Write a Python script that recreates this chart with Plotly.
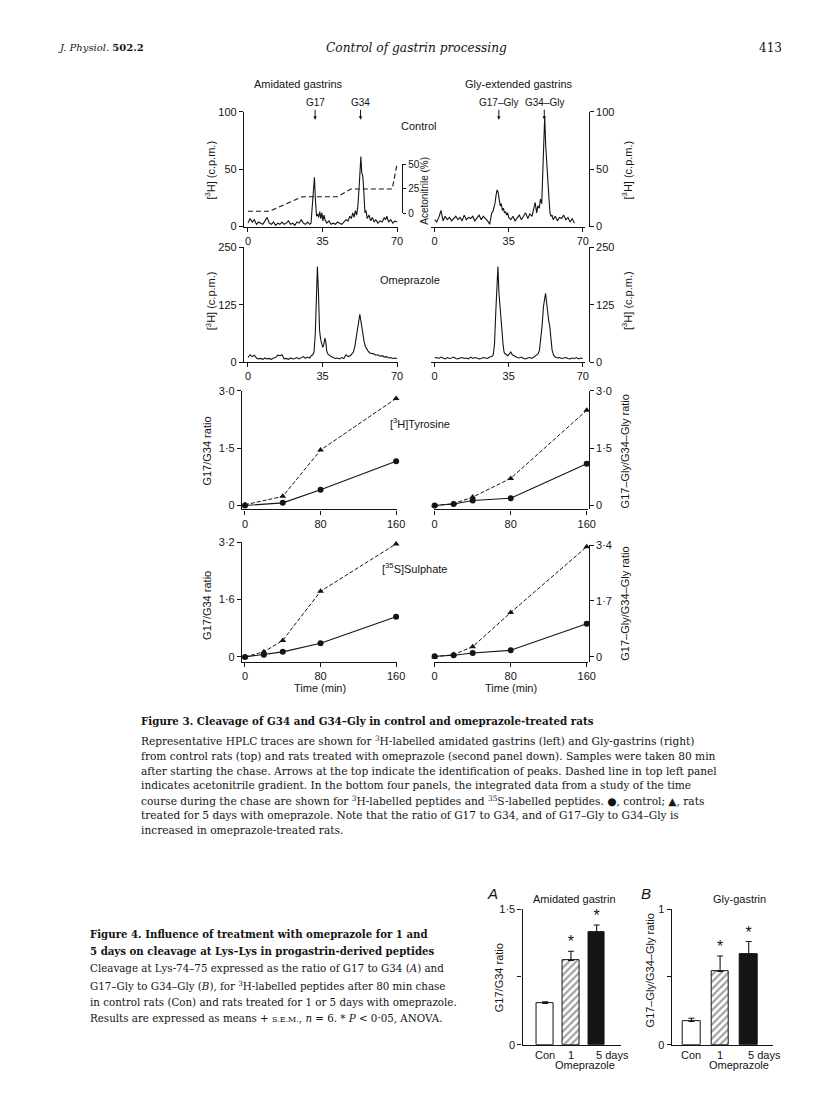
import plotly.graph_objects as go

W, H = 816, 1110
INK = '#141414'
SANS = 'Liberation Sans, Arial, Helvetica, sans-serif'
SERIF = 'DejaVu Serif, serif'

# ---------------- data ----------------
# HPLC, control, amidated gastrins (min, c.p.m.)
t_ca = [0, 1, 2, 3, 4, 5, 6, 7, 8, 9, 10, 11, 12, 13, 14, 15, 16, 17, 18, 19, 20, 21, 22, 23, 24, 25, 26, 27, 28, 29,
        29.6, 30.2, 30.7, 31.2, 31.7, 32.2, 32.7, 33.2, 33.7, 34.2, 34.7, 35.2, 35.7, 36.2,
        37, 38, 39, 40, 41, 42, 43, 44, 45, 46, 47,
        47.8, 48.5, 49.2, 49.8, 50.4, 51, 51.6, 52.2, 52.6, 53, 53.4, 53.9, 54.4, 54.9, 55.4, 56, 56.8, 57.6, 58.4, 59.2, 60,
        61, 62, 63, 64, 64.6, 65.2, 66, 67, 68, 69, 70]
c_ca = [3, 7, 4, 6, 2, 4, 3, 2, 5, 8, 3, 2, 4, 1, 3, 2, 4, 2, 3, 5, 2, 3, 1, 4, 3, 6, 3, 2, 4, 2,
        3, 18, 33, 43, 22, 9, 11, 8, 13, 7, 12, 5, 10, 6,
        3, 5, 2, 3, 2, 4, 3, 2, 4, 6, 5,
        9, 7, 12, 8, 14, 10, 18, 35, 52, 61, 47, 44, 30, 12, 14, 7, 10, 5, 8, 4, 6,
        3, 5, 4, 8, 6, 9, 4, 6, 3, 5, 4]

# HPLC, control, Gly-extended gastrins
t_cg = [0, 1, 2, 3, 4, 5, 6, 7, 8, 9, 10, 11, 12, 13, 14, 15, 16, 17, 18, 19, 20, 21, 22, 23, 24, 25, 26,
        27, 27.5, 28, 28.5, 29, 29.5, 30, 30.5, 31, 31.5, 32, 32.5, 33, 33.5, 34, 34.5, 35,
        36, 37, 38, 39, 40, 41, 42, 43, 44, 45, 46,
        46.8, 47.5, 48.2, 48.8, 49.4, 50, 50.6, 51.1, 51.6, 52.0, 52.5, 53, 53.5, 54, 54.5, 55, 55.5,
        56, 57, 58, 59, 60, 61, 62, 63, 64, 65, 66]
c_cg = [6, 4, 8, 14, 5, 9, 6, 8, 5, 7, 9, 6, 8, 5, 10, 6, 8, 7, 9, 5, 8, 10, 6, 9, 7, 5, 2,
        12, 13, 16, 20, 27, 32, 30, 24, 18, 20, 14, 16, 12, 13, 10, 12, 8,
        6, 9, 5, 8, 10, 6, 9, 12, 7, 11, 9,
        15, 21, 12, 18, 16, 24, 20, 45, 80, 96, 70, 52, 42, 25, 12, 9, 10,
        6, 9, 5, 8, 7, 10, 6, 8, 4, 7, 3]

# HPLC, omeprazole, amidated gastrins
t_oa = [0, 1, 2, 3, 4, 5, 6, 7, 8, 9, 10, 11, 12, 13, 14, 15, 16, 17, 18, 19, 20, 21, 22, 23, 24, 25, 26, 27, 28,
        29, 29.7, 30.4, 31, 31.6, 32.1, 32.6, 33.1, 33.6, 34.1, 34.6, 35.1, 35.6, 36.1, 36.5, 37, 37.5, 38.2, 39,
        40, 41, 42, 43, 44, 45, 46, 47, 48,
        48.8, 49.5, 50.2, 50.8, 51.4, 52, 52.5, 53, 53.5, 54, 54.5, 55.1, 55.7, 56.4, 57.2, 58,
        59, 60, 61, 62, 63, 64, 65, 66, 67, 68, 69, 70]
c_oa = [10, 16, 12, 15, 9, 7, 8, 6, 9, 7, 8, 6, 9, 10, 15, 14, 16, 7, 8, 6, 9, 7, 8, 10, 7, 9, 12, 8, 11,
        9, 14, 16, 22, 60, 140, 208, 150, 70, 50, 42, 32, 38, 52, 45, 24, 18, 14, 12,
        10, 8, 9, 7, 10, 8, 16, 12, 14,
        18, 22, 35, 55, 75, 95, 104, 90, 72, 65, 45, 34, 28, 24, 20, 19,
        18, 15, 16, 13, 14, 11, 12, 9, 10, 8, 9, 8]

# HPLC, omeprazole, Gly-extended gastrins
t_og = [0, 1, 2, 3, 4, 5, 6, 7, 8, 9, 10, 11, 12, 13, 14, 15, 16, 17, 18, 19, 20, 21, 22, 23, 24, 25, 26, 27,
        27.7, 28.3, 28.9, 29.4, 29.9, 30.4, 30.9, 31.3, 31.8, 32.3, 32.8, 33.3, 34, 34.6, 35.3, 36, 36.7,
        38, 39, 40, 41, 42, 43, 44, 45, 46, 47, 48,
        48.8, 49.5, 50.2, 50.8, 51.4, 52, 52.4, 52.9, 53.4, 53.9, 54.4, 54.9, 55.5, 56.2, 57,
        58, 59, 60, 61, 62, 63, 64, 65, 66, 67, 68, 69, 70]
c_og = [9, 10, 8, 11, 9, 7, 10, 8, 9, 11, 8, 7, 9, 10, 8, 9, 7, 11, 8, 10, 9, 7, 8, 10, 9, 8, 11, 12,
        16, 40, 110, 180, 208, 150, 115, 110, 70, 40, 22, 18, 16, 14, 18, 22, 16,
        12, 10, 9, 11, 8, 7, 9, 10, 8, 12, 14,
        18, 25, 50, 80, 120, 145, 150, 130, 105, 90, 78, 50, 26, 15, 11,
        9, 10, 8, 9, 10, 8, 7, 9, 8, 10, 7, 9, 8]

# acetonitrile gradient (%)
t_acn = [0, 10, 25.5, 42, 48.4, 67.7, 70]
acn = [2, 2, 17, 17, 25, 25, 51]

# time course of G17/G34 and G17-Gly/G34-Gly ratios
t_tyr_a = [0, 40, 80, 160]
tyr_a_con = [0, 0.07, 0.41, 1.16]
tyr_a_ome = [0.02, 0.24, 1.45, 2.80]
t_tyr_g = [0, 20, 40, 80, 160]
tyr_g_con = [0, 0.04, 0.13, 0.19, 1.09]
tyr_g_ome = [0, 0.05, 0.22, 0.71, 2.49]
t_sul = [0, 20, 40, 80, 160]
sul_a_con = [0, 0.06, 0.14, 0.38, 1.12]
sul_a_ome = [0, 0.14, 0.46, 1.83, 3.15]
sul_g_con = [0.02, 0.05, 0.12, 0.20, 1.01]
sul_g_ome = [0, 0.07, 0.31, 1.35, 3.35]

# Figure 4 bars
bar_cats = ['Con', '1', '5 days']
barA_mean = [0.457, 0.933, 1.244]
barA_sem = [0.018, 0.10, 0.08]
barB_mean = [0.171, 0.541, 0.671]
barB_sem = [0.024, 0.113, 0.09]

# tick labels
hplc_x_ticks = [0, 35, 70]
ratio_x_ticks = [0, 80, 160]

# ---------------- helpers ----------------
def fx(p):
    return p / W

def fy(p):
    return 1 - p / H

def span(d0, d1, p0, v0, p1, v1):
    s = (v1 - v0) / (p1 - p0)
    return [v0 + (d0 - p0) * s, v0 + (d1 - p0) * s]

base = dict(showline=True, linecolor=INK, linewidth=1.2, ticks='outside', ticklen=4,
            tickwidth=1.1, tickcolor=INK, showgrid=False, zeroline=False,
            tickfont=dict(family=SANS, size=11, color=INK), layer='above traces', fixedrange=True)

layout = {}

def key(kind, i):
    return kind if i == 1 else f'{kind}{i}'

def add_x(i, d0, d1, rng, anchor, vals=None, **kw):
    d = dict(base)
    d.update(domain=[fx(d0), fx(d1)], range=rng, anchor=anchor)
    if vals is not None:
        d.update(tickvals=vals, ticktext=[str(v) for v in vals])
    d.update(kw)
    layout[key('xaxis', i)] = d

def add_y(i, top, bottom, rng, vals, text, anchor=None, pos=None, side='left', **kw):
    d = dict(base)
    d.update(domain=[fy(bottom), fy(top)], range=rng, tickvals=vals, ticktext=text, side=side)
    if pos is not None:
        d.update(anchor='free', position=fx(pos))
    else:
        d.update(anchor=anchor)
    d.update(kw)
    layout[key('yaxis', i)] = d

# HPLC control
add_x(1, 245, 401, span(245, 401, 249, 0, 400, 70), 'y', hplc_x_ticks)
add_y(1, 107, 223, [0, 100], [0, 50, 100], ['0', '50', '100'], anchor='x')
add_x(2, 434, 590, span(434, 590, 438, 0, 588, 70), 'y2', hplc_x_ticks)
add_y(2, 107, 223, [0, 100], [0, 50, 100], ['0', '50', '100'], pos=594, side='right')
# acetonitrile bracket axis
add_y(3, 159.5, 209.5, span(209.5, 159.5, 209.5, 0, 160.5, 50), [0, 25, 50], ['0', '25', '50'],
      pos=405, side='right', tickfont=dict(family=SANS, size=10, color=INK), ticklen=3)
# HPLC omeprazole
add_x(4, 245, 401, span(245, 401, 249, 0, 400, 70), 'y4', hplc_x_ticks)
add_y(4, 244, 360, [0, 250], [0, 125, 250], ['0', '125', '250'], anchor='x4')
add_x(5, 434, 590, span(434, 590, 438, 0, 588, 70), 'y5', hplc_x_ticks)
add_y(5, 244, 360, [0, 250], [0, 125, 250], ['0', '125', '250'], pos=594, side='right')
# ratio, tyrosine
add_x(6, 243, 400, span(243, 400, 246, 0, 399, 160), 'y6', ratio_x_ticks)
add_y(6, 389, 509, span(509, 389, 505, 0, 389, 3.0), [0, 1.5, 3.0], ['0', '1·5', '3·0'], anchor='x6')
add_x(7, 437, 593, span(437, 593, 438, 0, 592, 160), 'y7', ratio_x_ticks)
add_y(7, 389, 509, span(509, 389, 505, 0, 389, 3.0), [0, 1.5, 3.0], ['0', '1·5', '3·0'], pos=594, side='right')
# ratio, sulphate
add_x(8, 243, 400, span(243, 400, 246, 0, 399, 160), 'y8', ratio_x_ticks)
add_y(8, 542, 663, span(663, 542, 658, 0, 542, 3.2), [0, 1.6, 3.2], ['0', '1·6', '3·2'], anchor='x8')
add_x(9, 437, 593, span(437, 593, 438, 0, 592, 160), 'y9', ratio_x_ticks)
add_y(9, 545, 663, span(663, 545, 658, 0, 545, 3.4), [0, 1.7, 3.4], ['0', '1·7', '3·4'], pos=594, side='right')
# Figure 4 bars
add_x(10, 527, 627, span(527, 627, 550, 0, 576, 1), 'y10',
      type='category', showticklabels=False, ticks='')
add_y(10, 913, 1050, [0, 1.5], [0, 1.5], ['0', '1·5'], anchor='x10',
      minor=dict(tickvals=[0.75], ticks='outside', ticklen=4, tickwidth=1.1, tickcolor=INK, showgrid=False))
add_x(11, 678, 781, span(678, 781, 698, 0, 727, 1), 'y11',
      type='category', showticklabels=False, ticks='')
add_y(11, 913, 1050, [0, 1], [0, 1], ['0', '1'], anchor='x11',
      minor=dict(tickvals=[0.5], ticks='outside', ticklen=4, tickwidth=1.1, tickcolor=INK, showgrid=False))

# ---------------- traces ----------------
fig = go.Figure()
trace_line = dict(color=INK, width=1.1)

def hplc(x, y, xa, ya):
    fig.add_trace(go.Scatter(x=x, y=y, xaxis=xa, yaxis=ya, mode='lines', line=trace_line, hoverinfo='skip'))

hplc(t_ca, c_ca, 'x', 'y')
hplc(t_cg, c_cg, 'x2', 'y2')
fig.add_trace(go.Scatter(x=t_acn, y=acn, xaxis='x', yaxis='y3', mode='lines',
                         line=dict(color=INK, width=1.1, dash='5px,3px'), hoverinfo='skip'))
hplc(t_oa, c_oa, 'x4', 'y4')
hplc(t_og, c_og, 'x5', 'y5')

def ratio(x, con, ome, xa, ya):
    fig.add_trace(go.Scatter(x=x, y=ome, xaxis=xa, yaxis=ya, mode='lines+markers',
                             line=dict(color=INK, width=1, dash='4px,2px'),
                             marker=dict(symbol='triangle-up', size=6, color=INK), cliponaxis=False))
    fig.add_trace(go.Scatter(x=x, y=con, xaxis=xa, yaxis=ya, mode='lines+markers',
                             line=dict(color=INK, width=1.1),
                             marker=dict(symbol='circle', size=6, color=INK), cliponaxis=False))

ratio(t_tyr_a, tyr_a_con, tyr_a_ome, 'x6', 'y6')
ratio(t_tyr_g, tyr_g_con, tyr_g_ome, 'x7', 'y7')
ratio(t_sul, sul_a_con, sul_a_ome, 'x8', 'y8')
ratio(t_sul, sul_g_con, sul_g_ome, 'x9', 'y9')

def bars(mean, sem, xa, ya, width):
    fig.add_trace(go.Bar(x=bar_cats, y=mean, xaxis=xa, yaxis=ya, width=width,
                         marker=dict(color=['white', 'white', INK], line=dict(color=INK, width=1),
                                     pattern=dict(shape=['', '/', ''], fgcolor=INK, bgcolor='white',
                                                  size=5, solidity=0.45)),
                         error_y=dict(type='data', array=sem, arrayminus=[0, 0, 0], symmetric=False,
                                      color=INK, thickness=1.1, width=3)))
    fig.add_trace(go.Scatter(x=bar_cats[1:], y=[m + s for m, s in zip(mean[1:], sem[1:])],
                             xaxis=xa, yaxis=ya, mode='text', text=['*', '*'],
                             textposition='top center', cliponaxis=False,
                             textfont=dict(family=SANS, size=16, color=INK)))

bars(barA_mean, barA_sem, 'x10', 'y10', 0.654)
bars(barB_mean, barB_sem, 'x11', 'y11', 0.62)

# ---------------- text ----------------
anns = []

def ann(text, x, y, size=11, family=SANS, xanchor='center', yanchor='middle', angle=0, **kw):
    d = dict(text=text, x=fx(x), y=fy(y), xref='paper', yref='paper', showarrow=False,
             xanchor=xanchor, yanchor=yanchor, textangle=angle,
             font=dict(family=family, size=size, color=INK))
    d.update(kw)
    anns.append(d)

# header
ann('<i>J. Physiol.</i> <b>502.2</b>', 55, 42, size=10, family=SERIF, xanchor='left')
ann('<i>Control of gastrin processing</i>', 420, 42, size=12.2, family=SERIF)
ann('413', 792, 42, size=12, family=SERIF, xanchor='right')

# figure 3 panel labels
ann('Amidated gastrins', 300, 79)
ann('Gly-extended gastrins', 523, 79)
for lab, x in (('G17', 317), ('G34', 363), ('G17–Gly', 503), ('G34–Gly', 549)):
    anns.append(dict(text=lab, x=fx(x), y=fy(115), xref='paper', yref='paper', showarrow=True,
                     ax=0, ay=-17, arrowhead=2, arrowsize=0.7, arrowwidth=1, arrowcolor=INK,
                     font=dict(family=SANS, size=10, color=INK)))
ann('Control', 422, 121)
ann('Omeprazole', 413, 277)
ann('[<sup>3</sup>H]Tyrosine', 423, 422)
ann('[<sup>35</sup>S]Sulphate', 418, 568)
ann('Acetonitrile (%)', 428, 187, size=10, angle=-90)
for y in (166, 298):
    ann('[<sup>3</sup>H] (c.p.m.)', 211, y, angle=-90)
    ann('[<sup>3</sup>H] (c.p.m.)', 633, y, angle=-90)
ann('G17/G34 ratio', 208, 450, angle=-90)
ann('G17/G34 ratio', 208, 606, angle=-90)
ann('G17–Gly/G34–Gly ratio', 631, 450, angle=-90)
ann('G17–Gly/G34–Gly ratio', 631, 604, angle=-90)
ann('Time (min)', 322, 689)
ann('Time (min)', 515, 689)

# figure 3 caption
fig3_title = '<b>Figure 3. Cleavage of G34 and G34–Gly in control and omeprazole-treated rats</b>'
fig3_lines = [
    'Representative HPLC traces are shown for <sup>3</sup>H-labelled amidated gastrins (left) and Gly-gastrins (right)',
    'from control rats (top) and rats treated with omeprazole (second panel down). Samples were taken 80 min',
    'after starting the chase. Arrows at the top indicate the identification of peaks. Dashed line in top left panel',
    'indicates acetonitrile gradient. In the bottom four panels, the integrated data from a study of the time',
    'course during the chase are shown for <sup>3</sup>H-labelled peptides and <sup>35</sup>S-labelled peptides. ●, control; ▲, rats',
    'treated for 5 days with omeprazole. Note that the ratio of G17 to G34, and of G17–Gly to G34–Gly is',
    'increased in omeprazole-treated rats.',
]
ann(fig3_title, 139, 723, size=10.3, family=SERIF, xanchor='left')
for k, line in enumerate(fig3_lines):
    ann(line, 139, 743 + 15 * k, size=10.6, family=SERIF, xanchor='left')

# figure 4 caption
fig4_lines = [
    '<b>Figure 4. Influence of treatment with omeprazole for 1 and</b>',
    '<b>5 days on cleavage at Lys–Lys in progastrin-derived peptides</b>',
    'Cleavage at Lys-74–75 expressed as the ratio of G17 to G34 (<i>A</i>) and',
    'G17–Gly to G34–Gly (<i>B</i>), for <sup>3</sup>H-labelled peptides after 80 min chase',
    'in control rats (Con) and rats treated for 1 or 5 days with omeprazole.',
    'Results are expressed as means + <span style="font-size:8px">S.E.M.</span>, <i>n</i> = 6. * <i>P</i> &lt; 0·05, ANOVA.',
]
for k, (line, y) in enumerate(zip(fig4_lines, [938, 955, 973, 990, 1007, 1023])):
    ann(line, 87, y, size=10.2 if k < 2 else 10.3, family=SERIF, xanchor='left')

# figure 4 panel text
ann('<i>A</i>', 497, 897, size=15)
ann('Amidated gastrin', 580, 903)
ann('<i>B</i>', 652, 897, size=15)
ann('Gly-gastrin', 747, 903)
ann('G17/G34 ratio', 504, 982, angle=-90)
ann('G17–Gly/G34–Gly ratio', 656, 975, angle=-90)
ann('Omeprazole', 590, 1071)
ann('Omeprazole', 746, 1071)
for xa, ya in (('x10', 'y10'), ('x11', 'y11')):
    for cat in bar_cats:
        last = cat == bar_cats[-1]
        anns.append(dict(text=cat, x=cat, xref=xa, y=0, yref=f'{ya} domain', yanchor='top',
                         xanchor='left' if last else 'center', xshift=-3 if last else 0, yshift=-2,
                         showarrow=False, font=dict(family=SANS, size=11, color=INK)))

fig.update_layout(width=W, height=H, margin=dict(l=0, r=0, t=0, b=0, pad=0),
                  paper_bgcolor='white', plot_bgcolor='rgba(0,0,0,0)', showlegend=False,
                  bargap=0, annotations=anns, **layout)

fig.write_html('out.html', config={'displayModeBar': False},
               post_script="document.documentElement.style.margin='0';document.body.style.margin='0';document.body.style.overflow='hidden';")
